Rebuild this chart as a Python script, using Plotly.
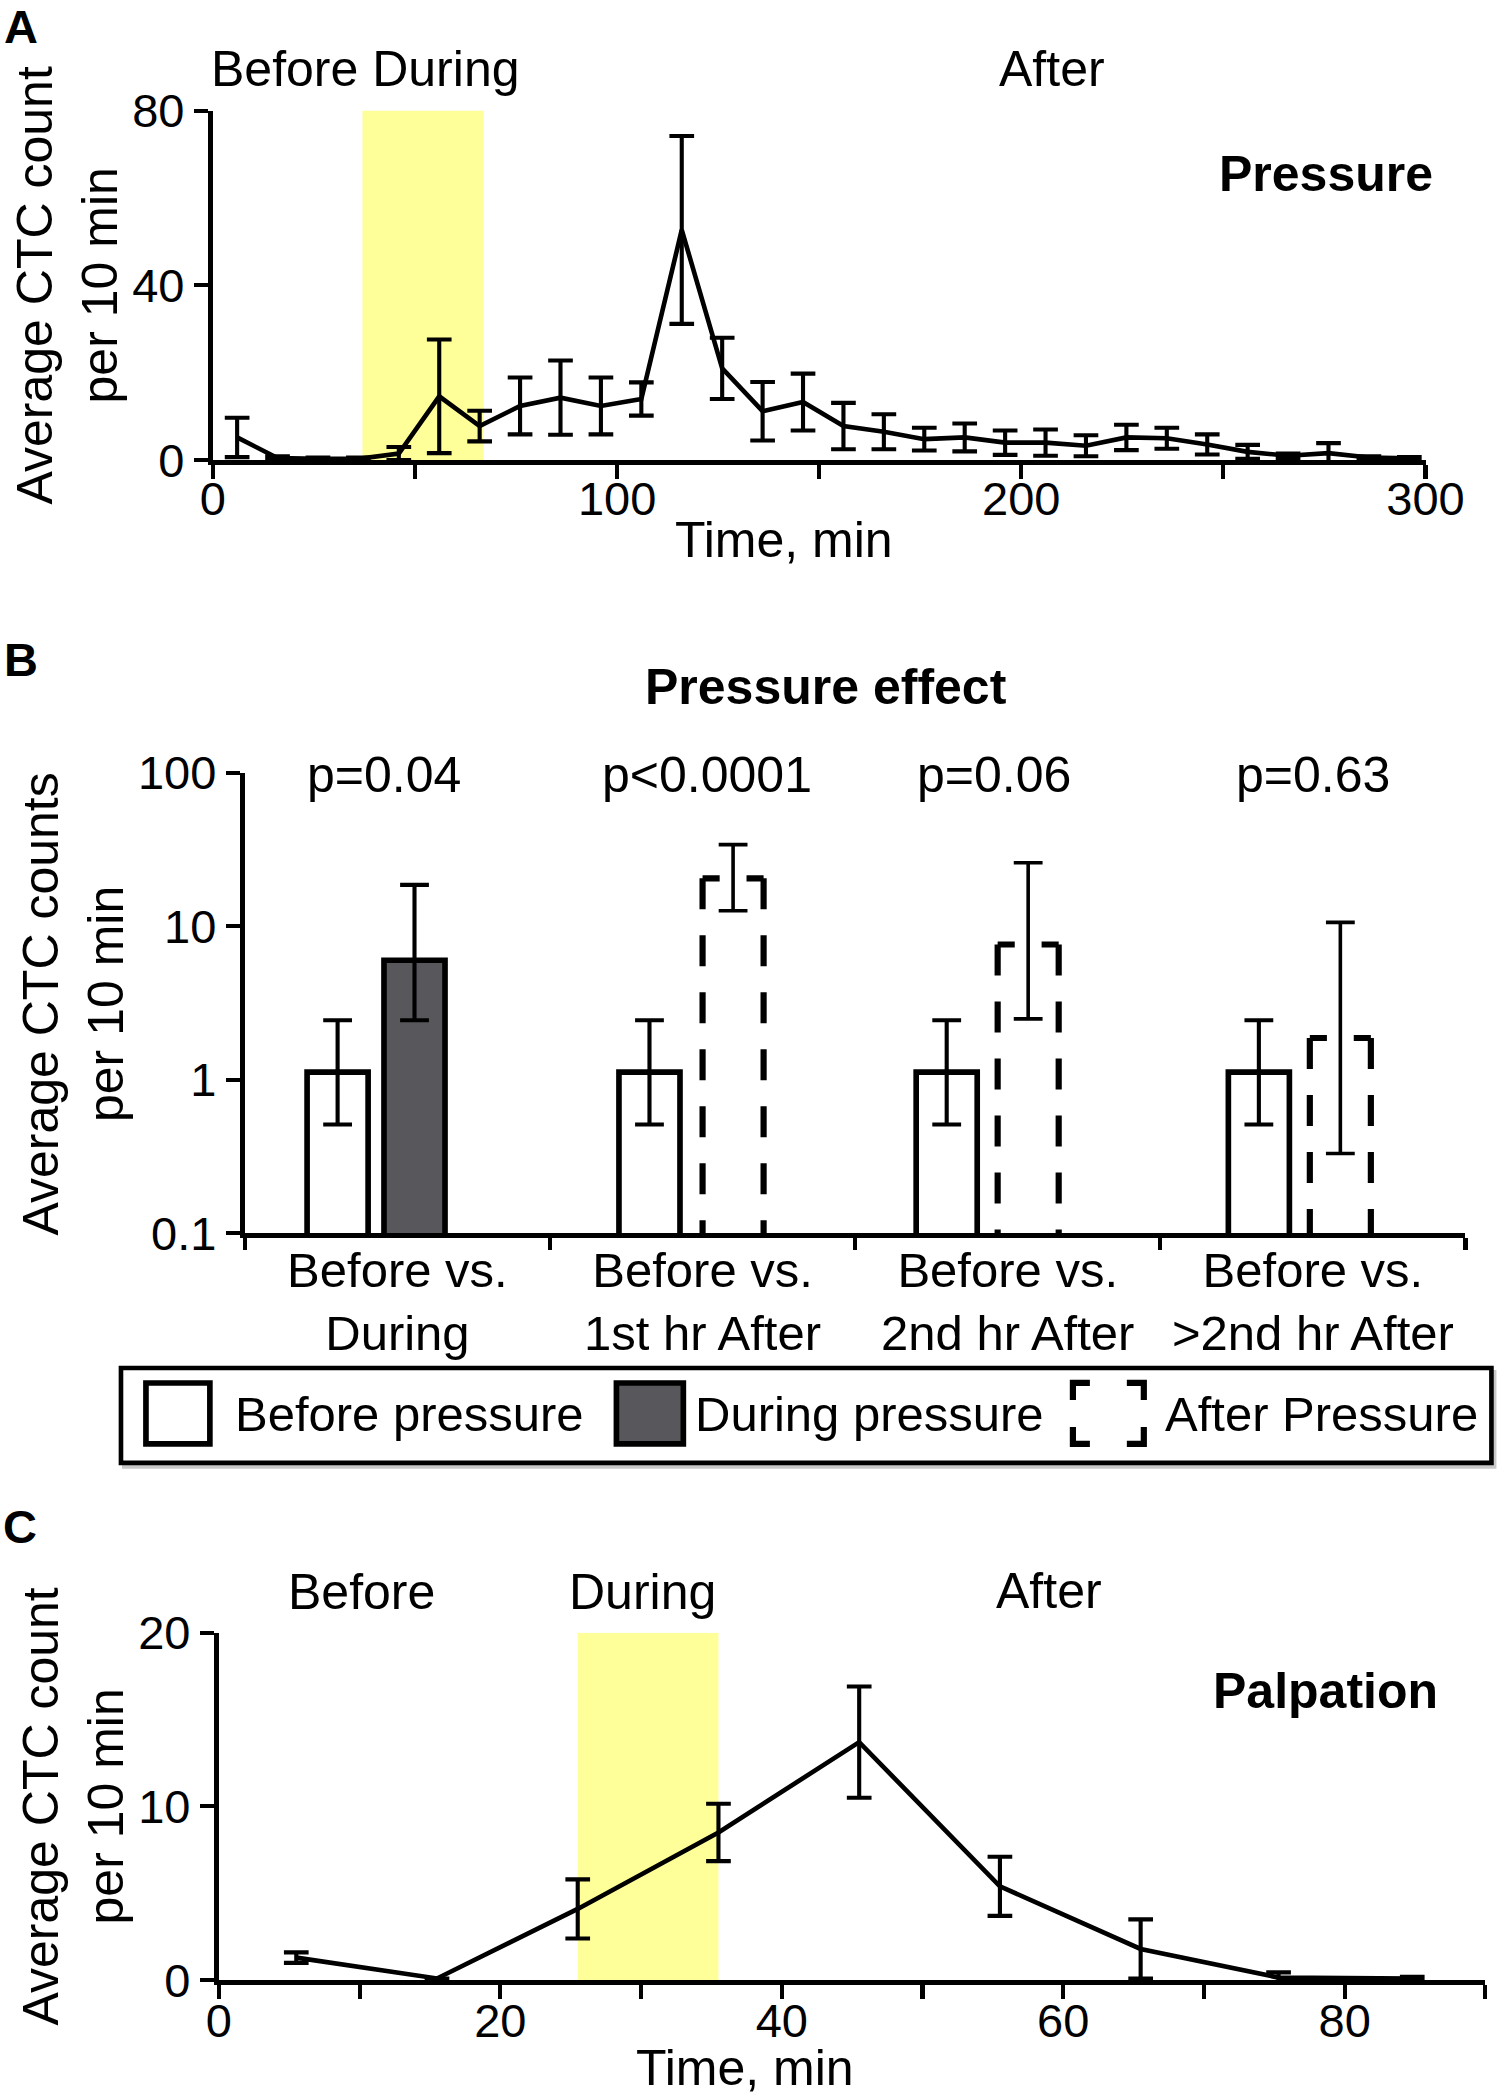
import plotly.graph_objects as go

FONT = "Liberation Sans, Arial, Helvetica, sans-serif"

# ---------------- Panel A data (Pressure) ----------------
time_a = [6, 16, 26, 36, 46, 56, 66, 76, 86, 96, 106, 116, 126, 136, 146,
          156, 166, 176, 186, 196, 206, 216, 226, 236, 246, 256, 266, 276, 286, 296]
mean_a = [5.2, 0.5, 0.3, 0.3, 1.5, 14.6, 7.8, 12.4, 14.3, 12.4, 14.0, 52.7, 21.0, 11.2, 13.3,
          7.8, 6.5, 4.8, 5.2, 4.0, 4.0, 3.3, 5.2, 5.0, 3.6, 1.9, 1.0, 1.6, 0.6, 0.4]
err_a = [4.5, 0.4, 0.3, 0.3, 1.5, 13.0, 3.5, 6.5, 8.5, 6.5, 3.8, 21.5, 7.0, 6.7, 6.5,
         5.3, 4.0, 2.6, 3.2, 2.8, 3.0, 2.4, 2.9, 2.4, 2.3, 1.6, 0.5, 2.3, 0.3, 0.3]
window_a = [37, 67]
xticks_a = [0, 100, 200, 300]
xminor_a = [50, 150, 250]
yticks_a = [0, 40, 80]

# ---------------- Panel B data (Pressure effect) ----------------
groups_b = ["Before vs.<br>During", "Before vs.<br>1st hr After",
            "Before vs.<br>2nd hr After", "Before vs.<br>>2nd hr After"]
group_idx = [0, 1, 2, 3]
before_mean = [1.12, 1.12, 1.12, 1.12]
before_hi = [2.44, 2.44, 2.44, 2.44]
before_lo = [0.51, 0.51, 0.51, 0.51]
during_group = [0]
during_mean = [6.0]
during_hi = [18.6]
during_lo = [2.44]
after_group = [1, 2, 3]
after_mean = [20.5, 7.6, 1.87]
after_hi = [34.0, 25.9, 10.6]
after_lo = [12.6, 2.49, 0.33]
p_labels = ["p=0.04", "p<0.0001", "p=0.06", "p=0.63"]
yticks_b = [0.1, 1, 10, 100]
yticktext_b = ["0.1", "1", "10", "100"]

# ---------------- Panel C data (Palpation) ----------------
time_c = [5.5, 15.5, 25.5, 35.5, 45.5, 55.5, 65.5, 75.3, 84.8]
mean_c = [1.3, 0.1, 4.1, 8.5, 13.7, 5.4, 1.8, 0.15, 0.1]
err_c = [0.3, 0.0, 1.7, 1.65, 3.2, 1.7, 1.7, 0.3, 0.1]
window_c = [25.5, 35.5]
xticks_c = [0, 20, 40, 60, 80]
xminor_c = [10, 30, 50, 70, 90]
yticks_c = [0, 10, 20]

# ---------------- layout / style constants ----------------
FW, FH = 1548, 2150          # figure canvas
SX, OX = 0.9675, 11.9        # observed page->picture mapping (x)
SY, OY = 0.9766, 24.3        # observed page->picture mapping (y)
K = 1 / 0.972                # size compensation
BAR_W = 0.2
BEFORE_OFF = [-0.196, -0.174, -0.200, -0.177]   # bar offsets within each group
SECOND_OFF = [0.056, 0.100, 0.067, 0.090]
P_DX = [-0.045, 0.016, -0.045, 0.0]
GRAY = "#58585c"
YELLOW = "#ffff99"
TICK_FS = round(46 * K)
TXT_FS = round(49 * K)
LW_AX = 4.5 * K
LW_DATA = 4.5 * K
TL = 14 * K


def fx(d):
    return ((d - OX) / SX) / FW


def fy(d):
    return 1 - ((d - OY) / SY) / FH


axis_common = dict(showline=True, linecolor="black", linewidth=LW_AX, ticks="outside",
                   ticklen=TL, tickwidth=4 * K, tickcolor="black", showgrid=False,
                   zeroline=False, tickfont=dict(size=TICK_FS, color="black", family=FONT))

fig = go.Figure()

fig.add_trace(go.Scatter(
    x=time_a, y=mean_a, mode="lines", line=dict(color="black", width=LW_DATA),
    error_y=dict(type="data", array=err_a, color="black", thickness=4 * K, width=12 * K),
    xaxis="x", yaxis="y", showlegend=False))

x_before = [g + BEFORE_OFF[g] for g in group_idx]
fig.add_trace(go.Bar(
    x=x_before, y=before_mean, width=BAR_W, name="Before pressure",
    marker=dict(color="white", line=dict(color="black", width=5.5 * K)),
    error_y=dict(type="data", symmetric=False,
                 array=[h - m for h, m in zip(before_hi, before_mean)],
                 arrayminus=[m - l for m, l in zip(before_mean, before_lo)],
                 color="black", thickness=4 * K, width=14 * K),
    xaxis="x2", yaxis="y2", showlegend=False))

x_during = [g + SECOND_OFF[g] for g in during_group]
fig.add_trace(go.Bar(
    x=x_during, y=during_mean, width=BAR_W, name="During pressure",
    marker=dict(color=GRAY, line=dict(color="black", width=5.5 * K)),
    error_y=dict(type="data", symmetric=False,
                 array=[h - m for h, m in zip(during_hi, during_mean)],
                 arrayminus=[m - l for m, l in zip(during_mean, during_lo)],
                 color="black", thickness=4 * K, width=14 * K),
    xaxis="x2", yaxis="y2", showlegend=False))

x_after = [g + SECOND_OFF[g] for g in after_group]
y_bottom = yticks_b[0]
for xc, v in zip(x_after, after_mean):
    l, r = xc - BAR_W / 2, xc + BAR_W / 2
    arm = 0.28 * BAR_W
    segs = [([l, l], [v, y_bottom]), ([r, r], [v, y_bottom]),
            ([l, l + arm], [v, v]), ([r, r - arm], [v, v])]
    for sx, sy in segs:
        fig.add_trace(go.Scatter(
            x=sx, y=sy, mode="lines",
            line=dict(color="black", width=6 * K, dash="31px,26px"),
            xaxis="x2", yaxis="y2", showlegend=False, hoverinfo="skip"))

fig.add_trace(go.Scatter(
    x=x_after, y=after_mean, mode="markers", name="After Pressure",
    marker=dict(size=1, color="rgba(0,0,0,0)"),
    error_y=dict(type="data", symmetric=False,
                 array=[h - m for h, m in zip(after_hi, after_mean)],
                 arrayminus=[m - l for m, l in zip(after_mean, after_lo)],
                 color="black", thickness=3.5 * K, width=14 * K),
    xaxis="x2", yaxis="y2", showlegend=False))

fig.add_trace(go.Scatter(
    x=time_c, y=mean_c, mode="lines", line=dict(color="black", width=LW_DATA),
    error_y=dict(type="data", array=err_c, color="black", thickness=4 * K, width=12 * K),
    xaxis="x3", yaxis="y3", showlegend=False))

shapes = [
    dict(type="rect", xref="x", yref="y", x0=window_a[0], x1=window_a[1],
         y0=yticks_a[0], y1=yticks_a[-1], fillcolor=YELLOW, line=dict(width=0), layer="below"),
    dict(type="rect", xref="x3", yref="y3", x0=window_c[0], x1=window_c[1],
         y0=yticks_c[0], y1=yticks_c[-1], fillcolor=YELLOW, line=dict(width=0), layer="below"),
]

# manual legend (box + icons), positions in picture pixels
shapes.append(dict(type="rect", xref="paper", yref="paper", x0=fx(123), x1=fx(1495),
                   y0=fy(1466), y1=fy(1371), line=dict(color="#c8c8c8", width=4), layer="below"))
shapes.append(dict(type="rect", xref="paper", yref="paper", x0=fx(120), x1=fx(1492),
                   y0=fy(1462), y1=fy(1367), line=dict(color="black", width=4.5 * K),
                   fillcolor="white"))
shapes.append(dict(type="rect", xref="paper", yref="paper", x0=fx(145), x1=fx(209),
                   y0=fy(1443), y1=fy(1382), line=dict(color="black", width=5.5 * K), fillcolor="white"))
shapes.append(dict(type="rect", xref="paper", yref="paper", x0=fx(616), x1=fx(683),
                   y0=fy(1443), y1=fy(1382), line=dict(color="black", width=5.5 * K), fillcolor=GRAY))
ix0, ix1, iy0, iy1, a = 1073, 1144, 1382, 1443, 17
for cx, cy, dx, dy in [(ix0, iy0, 1, 1), (ix1, iy0, -1, 1), (ix0, iy1, 1, -1), (ix1, iy1, -1, -1)]:
    path = f"M {fx(cx + dx * a)},{fy(cy)} L {fx(cx)},{fy(cy)} L {fx(cx)},{fy(cy + dy * a)}"
    shapes.append(dict(type="path", xref="paper", yref="paper", path=path,
                       line=dict(color="black", width=6 * K)))


def ann(text, x, y, size=TXT_FS, xanchor="center", yanchor="middle", angle=0, color="black"):
    return dict(text=text, x=x, y=y, xref="paper", yref="paper", xanchor=xanchor, yanchor=yanchor,
                showarrow=False, textangle=angle,
                font=dict(size=size, color=color, family=FONT))


annotations = [
    ann("<b>A</b>", fx(20), fy(24), size=round(46 * K)),
    ann("Before During", fx(365), fy(66)),
    ann("After", fx(1052), fy(66)),
    ann("<b>Pressure</b>", fx(1326), fy(171)),
    ann("Time, min", fx(784), fy(538)),
    ann("Average CTC count<br>per 10 min", fx(66), fy(283), angle=-90),

    ann("<b>B</b>", fx(20), fy(658), size=round(46 * K)),
    ann("<b>Pressure effect</b>", fx(826), fy(685)),
    ann("Average CTC counts<br>per 10 min", fx(72), fy(1003), angle=-90),
    ann("Before pressure", fx(232), fy(1413), xanchor="left", size=round(48 * K)),
    ann("During pressure", fx(693), fy(1413), xanchor="left", size=round(48 * K)),
    ann("After Pressure", fx(1163), fy(1413), xanchor="left", size=round(48 * K)),

    ann("<b>C</b>", fx(19), fy(1526), size=round(46 * K)),
    ann("Before", fx(361), fy(1591)),
    ann("During", fx(642), fy(1591)),
    ann("After", fx(1049), fy(1590)),
    ann("<b>Palpation</b>", fx(1326), fy(1690)),
    ann("Time, min", fx(745), fy(2068)),
    ann("Average CTC count<br>per 10 min", fx(72), fy(1806), angle=-90),
]
for g, lab in zip(group_idx, p_labels):
    annotations.append(dict(text=lab, x=g + P_DX[g], y=fy(773), xref="x2", yref="paper",
                            yanchor="middle", xanchor="center", showarrow=False,
                            font=dict(size=TXT_FS, color="black", family=FONT)))

fig.update_layout(
    width=FW, height=FH, autosize=False, margin=dict(l=0, r=0, t=0, b=0, pad=0),
    paper_bgcolor="white", plot_bgcolor="white",
    font=dict(family=FONT, color="black", size=TXT_FS),
    showlegend=False, bargap=0,
    xaxis=dict(axis_common, domain=[fx(212), fx(1426)], anchor="y", range=[0, 300],
               tickmode="array", tickvals=xticks_a, ticklabelstandoff=-21,
               minor=dict(tickvals=xminor_a, ticks="outside", ticklen=TL, tickwidth=4 * K, tickcolor="black")),
    yaxis=dict(axis_common, domain=[fy(458), fy(108)], anchor="x", range=[0, 80],
               tickmode="array", tickvals=yticks_a),
    xaxis2=dict(axis_common, domain=[fx(244), fx(1466)], anchor="y2", range=[-0.5, 3.5],
                tickmode="array", tickvals=group_idx, ticktext=groups_b,
                tickcolor="rgba(0,0,0,0)", ticklen=10, ticklabelstandoff=-20,
                tickfont=dict(size=TXT_FS - 1, color="black", family=FONT),
                minor=dict(tickvals=[-0.5, 0.5, 1.5, 2.5, 3.5], ticks="outside", ticklen=12 * K,
                           tickwidth=4 * K, tickcolor="black")),
    yaxis2=dict(axis_common, domain=[fy(1232), fy(771)], anchor="x2", type="log", range=[-1, 2],
                tickmode="array", tickvals=yticks_b, ticktext=yticktext_b),
    xaxis3=dict(axis_common, domain=[fx(218), fx(1486)], anchor="y3", range=[0, 90],
                tickmode="array", tickvals=xticks_c, ticklabelstandoff=-19,
                minor=dict(tickvals=xminor_c, ticks="outside", ticklen=TL, tickwidth=4 * K, tickcolor="black")),
    yaxis3=dict(axis_common, domain=[fy(1980), fy(1632)], anchor="x3", range=[0, 20],
                tickmode="array", tickvals=yticks_c),
    shapes=shapes,
    annotations=annotations,
)

fig.write_html("out.html",
               config={"responsive": False, "displayModeBar": False, "staticPlot": True},
               post_script="document.body.style.margin='0';document.body.style.padding='0';"
                           "document.documentElement.style.overflow='hidden';")
